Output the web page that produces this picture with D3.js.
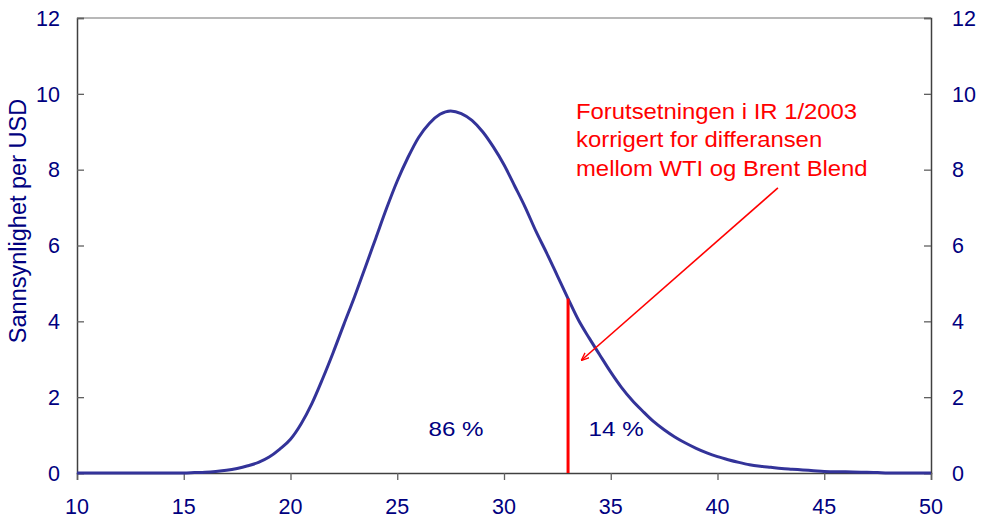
<!DOCTYPE html>
<html>
<head>
<meta charset="utf-8">
<script src="https://cdn.jsdelivr.net/npm/d3@7"></script>
<style>
    body { margin: 0; background: #fff; }
    text { font-family: "Liberation Sans", Arial, sans-serif; }
</style>
</head>
<body>
<div id="chart"></div>
<script>
// oil price (USD) and probability density (per cent per USD)
var prices = [10, 11, 12, 13, 14, 15, 15.5, 16, 16.5, 17, 17.5, 18, 18.5, 19, 19.5, 20, 20.5, 21, 21.5, 22, 22.5,
    23, 23.5, 24, 24.5, 25, 25.5, 26, 26.5, 27, 27.5, 28, 28.5, 29, 29.5, 30, 30.5, 31, 31.5, 32, 32.5,
    33, 33.5, 34, 34.5, 35, 35.5, 36, 36.5, 37, 37.5, 38, 38.5, 39, 39.5, 40, 40.5, 41, 41.5, 42, 42.5,
    43, 43.5, 44, 44.5, 45, 46, 47, 47.5, 48, 49, 50];
var density = [0, 0, 0, 0, 0, 0, 0.01, 0.02, 0.04, 0.07, 0.12, 0.19, 0.28, 0.42, 0.63, 0.89, 1.3, 1.83, 2.48, 3.18, 3.92,
    4.65, 5.42, 6.2, 6.98, 7.7, 8.32, 8.85, 9.22, 9.46, 9.55, 9.48, 9.3, 9.0, 8.6, 8.13, 7.57, 7.0, 6.37, 5.8, 5.2,
    4.6, 4.02, 3.55, 3.1, 2.66, 2.26, 1.92, 1.63, 1.36, 1.14, 0.95, 0.79, 0.65, 0.53, 0.43, 0.35, 0.28, 0.22, 0.18, 0.15,
    0.12, 0.1, 0.08, 0.06, 0.04, 0.03, 0.02, 0.01, 0, 0, 0];

var xTicks = [10, 15, 20, 25, 30, 35, 40, 45, 50];
var yTicks = [0, 2, 4, 6, 8, 10, 12];

// assumption marker and shares either side of it
var cutoff = 33;
var cutoffDensity = 4.6;
var shareLabels = [{ x: 27.75, y: 1, text: "86 %" }, { x: 35.25, y: 1, text: "14 %" }];
var noteLines = ["Forutsetningen i IR 1/2003", "korrigert for differansen", "mellom WTI og Brent Blend"];
var arrowFrom = [42.83, 7.52];
var arrowTo = [33.64, 2.98];

var width = 981, height = 519;
var margin = { left: 77, right: 50, top: 18, bottom: 46 };
var navy = "#000080";

var x = d3.scaleLinear().domain([10, 50]).range([margin.left, width - margin.right]);
var y = d3.scaleLinear().domain([0, 12]).range([height - margin.bottom, margin.top]);

var svg = d3.select("#chart").append("svg")
    .attr("width", width)
    .attr("height", height);

svg.append("defs").append("marker")
    .attr("id", "arrow")
    .attr("viewBox", "0 0 10 10")
    .attr("refX", 9)
    .attr("refY", 5)
    .attr("markerWidth", 8)
    .attr("markerHeight", 8)
    .attr("markerUnits", "userSpaceOnUse")
    .attr("orient", "auto")
    .append("path")
    .attr("d", "M0,1 L10,5 L0,9")
    .attr("fill", "none")
    .attr("stroke", "#ff0000")
    .attr("stroke-width", 1.6);

// top frame line
svg.append("line")
    .attr("x1", x(10)).attr("x2", x(50))
    .attr("y1", y(12)).attr("y2", y(12))
    .attr("stroke", "#a0a0a0")
    .attr("stroke-width", 1.5);

var fontSize = "21.5px";

var left = svg.append("g")
    .attr("transform", "translate(" + x(10) + ",0)")
    .call(d3.axisRight(y).tickValues(yTicks).tickSize(7).tickFormat(""));
var right = svg.append("g")
    .attr("transform", "translate(" + x(50) + ",0)")
    .call(d3.axisLeft(y).tickValues(yTicks).tickSize(7).tickFormat(""));
var bottom = svg.append("g")
    .attr("transform", "translate(0," + y(0) + ")")
    .call(d3.axisBottom(x).tickValues(xTicks).tickSize(7).tickFormat(""));

[left, right, bottom].forEach(function (g) {
    g.select(".domain").attr("stroke", "#404040").attr("stroke-width", 1.5);
    g.selectAll(".tick line").attr("stroke", "#606060").attr("stroke-width", 1.3);
});

// tick labels
svg.append("g").selectAll("text")
    .data(yTicks).enter().append("text")
    .attr("x", x(10) - 17)
    .attr("y", function (d) { return y(d); })
    .attr("dy", "0.36em")
    .attr("text-anchor", "end")
    .attr("font-size", fontSize)
    .attr("fill", navy)
    .text(function (d) { return d; });

svg.append("g").selectAll("text")
    .data(yTicks).enter().append("text")
    .attr("x", x(50) + 21)
    .attr("y", function (d) { return y(d); })
    .attr("dy", "0.36em")
    .attr("text-anchor", "start")
    .attr("font-size", fontSize)
    .attr("fill", navy)
    .text(function (d) { return d; });

svg.append("g").selectAll("text")
    .data(xTicks).enter().append("text")
    .attr("x", function (d) { return x(d); })
    .attr("y", 514)
    .attr("text-anchor", "middle")
    .attr("font-size", fontSize)
    .attr("fill", navy)
    .text(function (d) { return d; });

svg.append("text")
    .attr("transform", "translate(26,221) rotate(-90)")
    .attr("text-anchor", "middle")
    .attr("font-size", "23.5px")
    .attr("fill", navy)
    .text("Sannsynlighet per USD");

// density curve
var line = d3.line()
    .x(function (d, i) { return x(prices[i]); })
    .y(function (d) { return y(d); })
    .curve(d3.curveMonotoneX);

svg.append("path")
    .datum(density)
    .attr("d", line)
    .attr("fill", "none")
    .attr("stroke", "#333399")
    .attr("stroke-width", 3);

// cutoff line
svg.append("line")
    .attr("x1", x(cutoff)).attr("x2", x(cutoff))
    .attr("y1", y(0)).attr("y2", y(cutoffDensity))
    .attr("stroke", "#ff0000")
    .attr("stroke-width", 3);

// the chart's text is drawn a little wide, so stretch it horizontally
svg.append("g").selectAll("text")
    .data(shareLabels).enter().append("text")
    .attr("transform", function (d) {
        return "translate(" + x(d.x) + "," + (y(d.y) + 1) + ") scale(1.15,1)";
    })
    .attr("text-anchor", "middle")
    .attr("font-size", "21px")
    .attr("fill", navy)
    .text(function (d) { return d.text; });

// note with arrow
svg.append("g")
    .attr("transform", "translate(576,0) scale(1.085,1)")
    .selectAll("text")
    .data(noteLines).enter().append("text")
    .attr("x", 0)
    .attr("y", function (d, i) { return 119 + i * 28.5; })
    .attr("font-size", "22px")
    .attr("fill", "#ff0000")
    .text(function (d) { return d; });

svg.append("line")
    .attr("x1", x(arrowFrom[0])).attr("y1", y(arrowFrom[1]))
    .attr("x2", x(arrowTo[0])).attr("y2", y(arrowTo[1]))
    .attr("stroke", "#ff0000")
    .attr("stroke-width", 1.6)
    .attr("marker-end", "url(#arrow)");
</script>
</body>
</html>
